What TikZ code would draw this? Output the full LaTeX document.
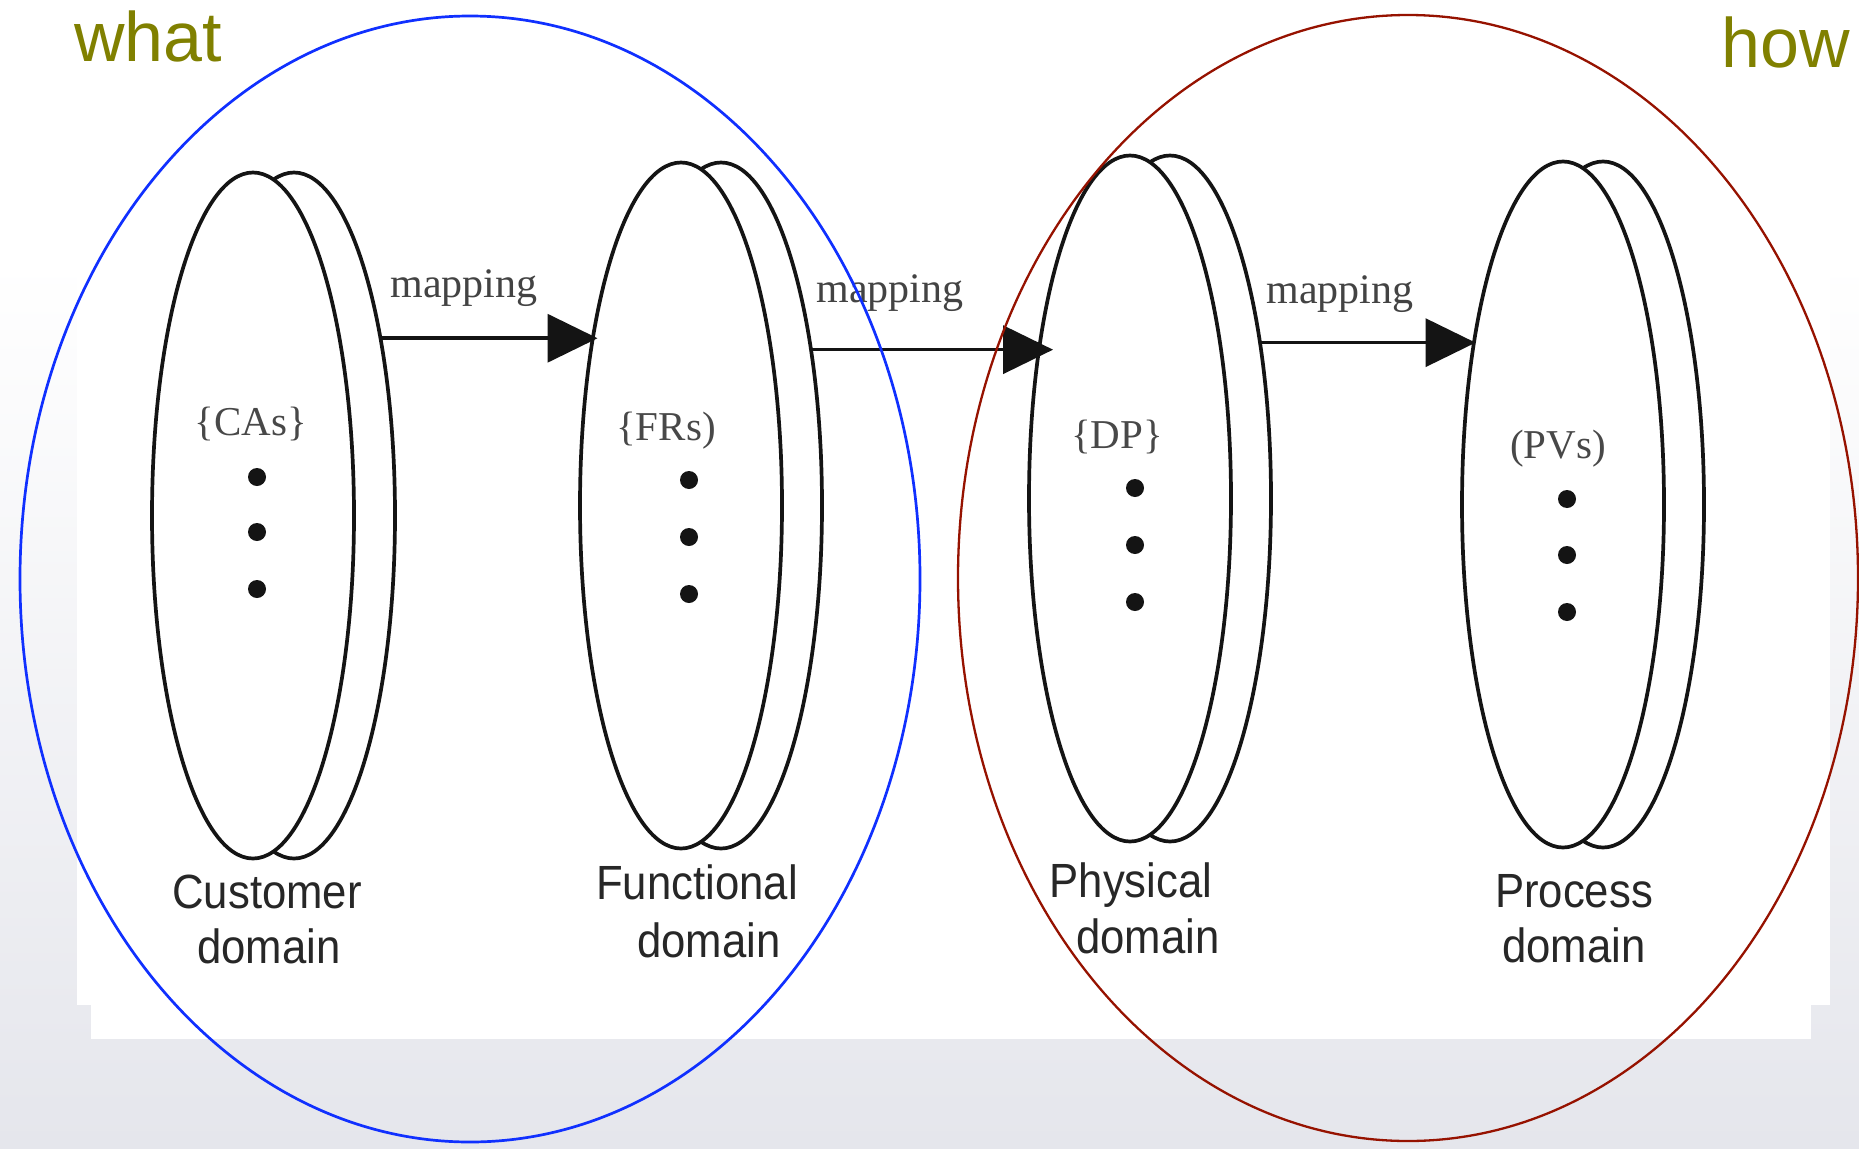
\documentclass[tikz,border=0pt]{standalone}
\usepackage{fontspec}
\setmainfont{Liberation Serif}
\newfontfamily\labelsans{Liberation Sans}
\usetikzlibrary{shapes.geometric,arrows.meta}

\definecolor{olivetxt}{RGB}{128,128,0}
\definecolor{ringblue}{RGB}{16,48,255}
\definecolor{ringred}{RGB}{150,18,0}
\definecolor{ink}{RGB}{20,20,20}
\definecolor{slidegrey}{RGB}{229,230,236}

\begin{document}
\begin{tikzpicture}[x=1pt,y=-1pt,
  disk/.style={ellipse, draw=ink, line width=3.7pt, fill=white, inner sep=0pt,
    outer sep=0pt, minimum width=202pt, minimum height=686pt},
  dot/.style={circle, fill=ink, inner sep=0pt, minimum size=18pt},
  setlabel/.style={inner sep=0pt, anchor=base, text=ink!78,
    font=\fontsize{41}{48}\selectfont},
  maplabel/.style={inner sep=0pt, anchor=base, text=ink!80,
    font=\fontsize{42}{50}\selectfont},
  domlabel/.style={inner sep=0pt, anchor=base, text=ink!92,
    font=\labelsans\fontsize{48}{55}\selectfont},
  headword/.style={inner sep=0pt, anchor=base, text=olivetxt,
    font=\labelsans\fontsize{70}{84}\selectfont},
  mapto/.style={draw=ink, line width=3.5pt, -{Triangle[length=50pt,width=48pt]}},
]
% slide background and the white panel of the figure
\useasboundingbox (0,0) rectangle (1859,1148);
\fill[white] (0,0) rectangle (1859,260);
\shade[top color=white, bottom color=slidegrey] (0,260) rectangle (1859,1148);
\fill[white] (77,0) rectangle (1830,1005);
\fill[white] (91,1005) rectangle (1811,1039);

% the four domains, each a pair of stacked disks
\node[disk] (cab) at (294,515.5) {};
\node[disk] (caf) at (253,515.5) {};
\node[disk] (frb) at (721,505.5) {};
\node[disk] (frf) at (681,505.5) {};
\node[disk] (dpb) at (1170,498.5) {};
\node[disk] (dpf) at (1130,498.5) {};
\node[disk] (pvb) at (1603,504.5) {};
\node[disk] (pvf) at (1563,504.5) {};

% set names inside the disks
\node[setlabel] (cas) at (251,435) {\{CAs\}};
\node[setlabel] (frs) at (666,440) {\{FRs)};
\node[setlabel] (dps) at (1117,448) {\{DP\}};
\node[setlabel] (pvs) at (1558,458) {(PVs)};

% vertical ellipsis dots
\foreach \y [count=\i] in {477,532,589} \node[dot] (ca\i) at (257,\y) {};
\foreach \y [count=\i] in {480,537,594} \node[dot] (fr\i) at (689,\y) {};
\foreach \y [count=\i] in {488,545,602} \node[dot] (dp\i) at (1135,\y) {};
\foreach \y [count=\i] in {499,555,612} \node[dot] (pv\i) at (1567,\y) {};

% mappings between neighbouring domains
\draw[mapto, shorten >=-4pt] (cab.64.05) -- (cab.64.05 -| frf.117.75);
\draw[mapto, shorten >=-13pt] (frb.60.52) -- (frb.60.52 -| dpf.120.88);
\draw[mapto] (dpb.60.91) -- (dpb.60.91 -| pvf.117.94);
\node[maplabel] (m1) at (464,297) {mapping};
\node[maplabel] (m2) at (890,302) {mapping};
\node[maplabel] (m3) at (1340,303) {mapping};

% domain captions
\node[domlabel] (cd1) at (267,908) {\scalebox{0.91}[1]{Customer}};
\node[domlabel] (cd2) at (269,963) {\scalebox{0.91}[1]{domain}};
\node[domlabel] (fd1) at (697,899) {\scalebox{0.91}[1]{Functional}};
\node[domlabel] (fd2) at (709,957) {\scalebox{0.91}[1]{domain}};
\node[domlabel] (pd1) at (1131,897) {\scalebox{0.91}[1]{Physical}};
\node[domlabel] (pd2) at (1148,953) {\scalebox{0.91}[1]{domain}};
\node[domlabel] (rd1) at (1574,907) {\scalebox{0.91}[1]{Process}};
\node[domlabel] (rd2) at (1574,962) {\scalebox{0.91}[1]{domain}};

% grouping rings and their headings
\draw[ringblue, line width=2.7pt] (470,579) ellipse [x radius=450, y radius=563];
\draw[ringred, line width=2.3pt] (1408,578) ellipse [x radius=450, y radius=563];
\node[headword] (what) at (148,62) {what};
\node[headword] (how) at (1786,67) {how};
\end{tikzpicture}
\end{document}
